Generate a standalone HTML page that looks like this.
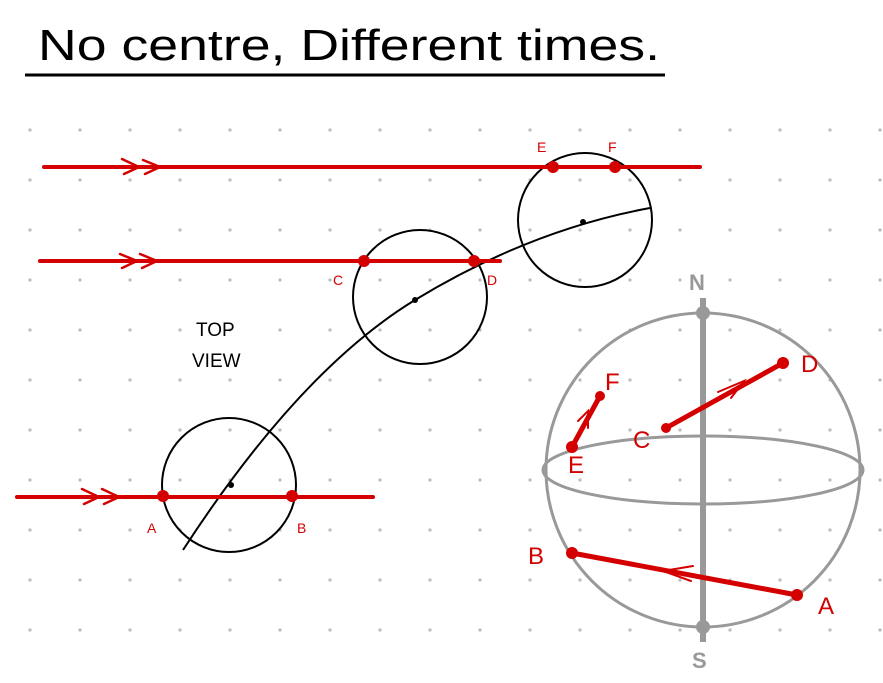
<!DOCTYPE html>
<html><head><style>body{margin:0;background:#fff}</style></head><body>
<svg width="883" height="678" viewBox="0 0 883 678" xmlns="http://www.w3.org/2000/svg">
<defs><pattern id="g" x="28" y="128" width="50" height="50" patternUnits="userSpaceOnUse"><circle cx="2" cy="2" r="1.6" fill="#bbb"/></pattern></defs>
<rect x="20" y="120" width="863" height="520" fill="url(#g)"/>
<text x="38" y="60" font-family="Liberation Sans, sans-serif" font-size="44" fill="#000" textLength="622" lengthAdjust="spacingAndGlyphs" style="font-weight:300">No centre, Different times.</text>
<line x1="25" y1="75" x2="665" y2="75" stroke="#000" stroke-width="3"/>
<g fill="none" stroke="#000" stroke-width="2">
<circle cx="229" cy="485" r="67"/><circle cx="420" cy="297" r="67"/><circle cx="585" cy="220" r="67"/>
<path d="M183 550 Q300 370 415 300 T650 208"/>
</g>
<g fill="#000"><circle cx="231" cy="485" r="3"/><circle cx="415" cy="300" r="3"/><circle cx="583" cy="222" r="3"/></g>
<g stroke="#d40000" stroke-width="4" fill="none" stroke-linecap="round">
<line x1="44" y1="167" x2="700" y2="167"/><line x1="40" y1="261" x2="500" y2="261"/><line x1="17" y1="497" x2="373" y2="497"/>
<path d="M122 159l17 8-15 7M143 160l17 7-15 7" stroke-width="2.5"/>
<path d="M120 254l17 7-15 7M140 254l17 7-15 7" stroke-width="2.5"/>
<path d="M82 489l17 8-15 7M102 489l17 8-15 7" stroke-width="2.5"/>
</g>
<g fill="#d40000"><circle cx="553" cy="167" r="6"/><circle cx="615" cy="167" r="6"/><circle cx="364" cy="261" r="6"/><circle cx="474" cy="261" r="6"/><circle cx="163" cy="496" r="6"/><circle cx="292" cy="496" r="6"/></g>
<g font-family="Liberation Sans, sans-serif" font-size="14" fill="#d40000">
<text x="537" y="152">E</text><text x="608" y="152">F</text><text x="333" y="285">C</text><text x="487" y="285">D</text><text x="147" y="533">A</text><text x="297" y="533">B</text></g>
<g font-family="Liberation Sans, sans-serif" font-size="19" fill="#000"><text x="196" y="336">TOP</text><text x="192" y="367">VIEW</text></g>
<g stroke="#999" fill="none" stroke-width="3">
<circle cx="703" cy="470" r="157"/><ellipse cx="703" cy="470" rx="160" ry="34"/>
<line x1="703" y1="298" x2="703" y2="642" stroke-width="6"/></g>
<g fill="#999"><circle cx="703" cy="313" r="7"/><circle cx="703" cy="627" r="7"/></g>
<g font-family="Liberation Sans, sans-serif" font-weight="bold" font-size="22" fill="#999"><text x="689" y="290">N</text><text x="692" y="668">S</text></g>
<g stroke="#d40000" stroke-width="5" stroke-linecap="round" fill="none">
<line x1="666" y1="428" x2="783" y2="363"/><line x1="572" y1="447" x2="600" y2="396"/><line x1="572" y1="553" x2="797" y2="595"/>
<path d="M718 392l26-11-13 17M578 421l10-10 0 17M693 566l-30 5 28 10" stroke-width="2"/></g>
<g fill="#d40000"><circle cx="783" cy="363" r="6"/><circle cx="666" cy="428" r="5"/><circle cx="600" cy="396" r="5"/><circle cx="572" cy="447" r="6"/><circle cx="572" cy="553" r="6"/><circle cx="797" cy="595" r="6"/></g>
<g font-family="Liberation Sans, sans-serif" font-size="24" fill="#d40000">
<text x="801" y="372">D</text><text x="633" y="448">C</text><text x="605" y="390">F</text><text x="568" y="473">E</text><text x="528" y="564">B</text><text x="818" y="614">A</text></g>
</svg>
</body></html>
